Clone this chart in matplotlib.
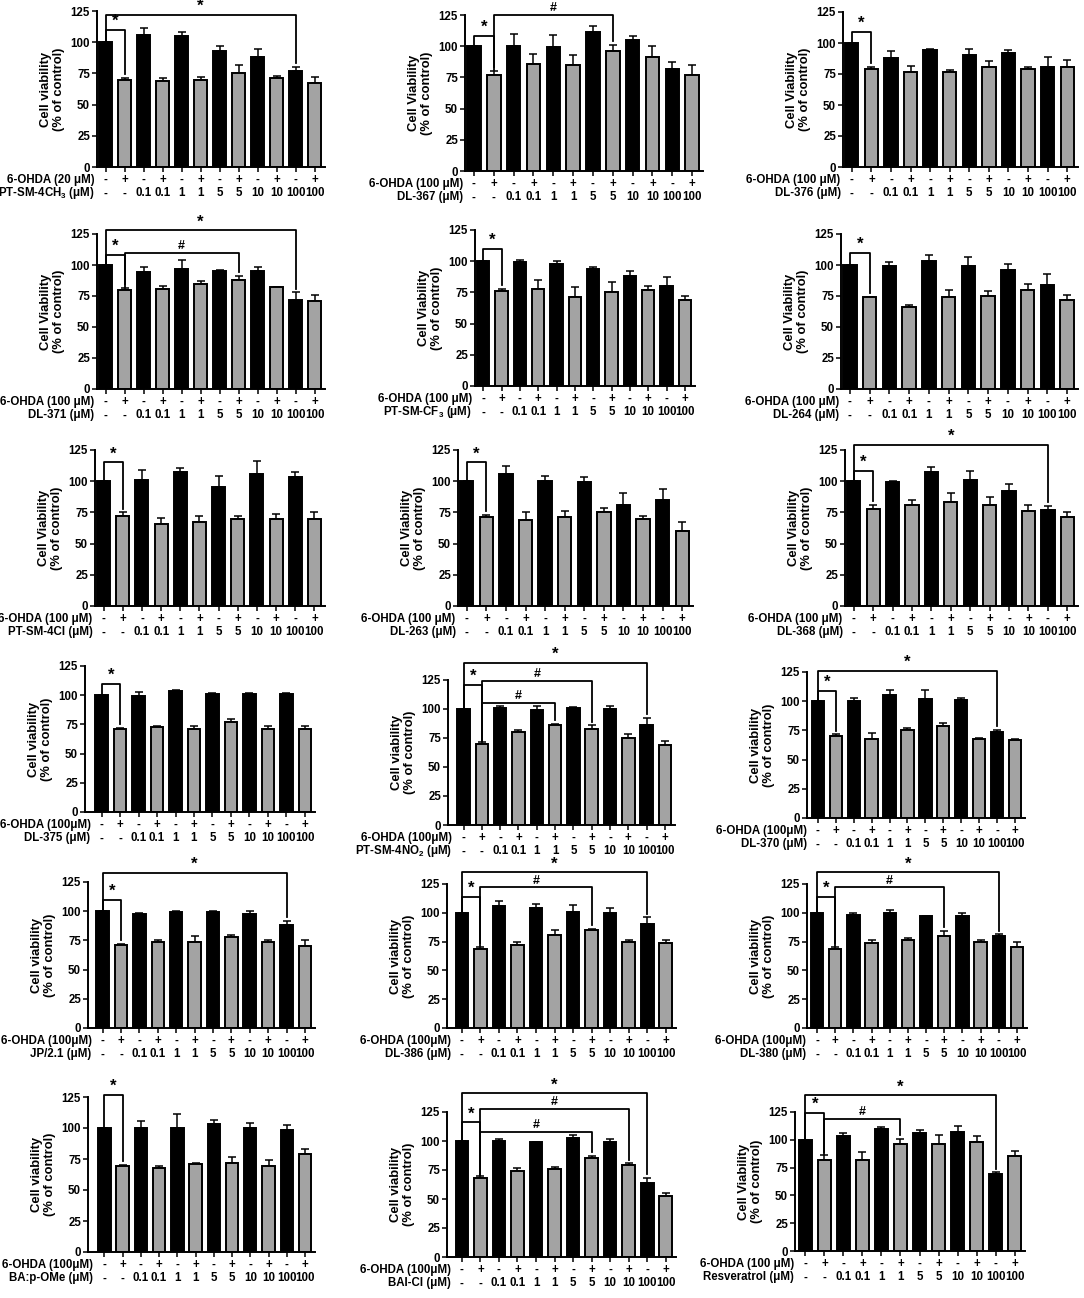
import numpy as np
import matplotlib.pyplot as plt

plt.rcParams['font.family'] = ['Liberation Sans', 'DejaVu Sans']
plt.rcParams['font.weight'] = 'bold'
plt.rcParams['mathtext.fontset'] = 'custom'
plt.rcParams['mathtext.rm'] = 'Liberation Sans:bold'
plt.rcParams['mathtext.bf'] = 'Liberation Sans:bold'
plt.rcParams['mathtext.default'] = 'bf'

# shared x labels
signs = ['-', '+'] * 6
concs = ['-', '-', '0.1', '0.1', '1', '1', '5', '5', '10', '10', '100', '100']

# means / SEM
pt4ch3_mean = [100, 70, 106, 69, 105, 70, 93, 75, 88, 71, 77, 67]
pt4ch3_err = [0, 1.5, 5, 2, 3.5, 2.5, 4, 7, 6.5, 2, 3, 5]
dl367_mean = [100, 77, 100, 86, 99, 85, 111, 96, 105, 91, 82, 77]
dl367_err = [0, 3, 10, 8, 10, 8, 5, 5, 3.5, 9, 5, 8]
dl376_mean = [100, 79, 88, 77, 94, 77, 90, 81, 92, 79, 81, 81]
dl376_err = [0, 1.5, 5.5, 4.5, 1, 1.5, 5.5, 4.5, 2, 2, 7.5, 5.5]
dl371_mean = [100, 80, 94, 81, 97, 85, 95, 88, 95, 82, 72, 71]
dl371_err = [0, 1.5, 4, 2, 7, 2.5, 1, 3.5, 3.5, 0.5, 6, 5]
ptcf3_mean = [100, 76, 99, 78, 98, 71, 94, 75, 88, 77, 80, 69]
ptcf3_err = [0, 2, 2, 7, 2, 8.5, 1.5, 8, 4, 3, 7.5, 3.5]
dl264_mean = [100, 74, 99, 66, 103, 74, 99, 75, 96, 80, 84, 72]
dl264_err = [0, 0.5, 3.5, 1.5, 5, 6, 7.5, 4, 5, 4.5, 8.5, 4]
pt4cl_mean = [100, 72, 101, 66, 107, 67, 95, 70, 106, 70, 103, 70]
pt4cl_err = [0, 3, 8, 4.5, 3.5, 5.5, 9, 2.5, 10.5, 4, 4, 5]
dl263_mean = [100, 71, 106, 69, 100, 71, 99, 75, 81, 70, 85, 60]
dl263_err = [0, 2, 6, 6, 4.5, 5, 4.5, 3.5, 9.5, 2, 9, 7]
dl368_mean = [100, 78, 99, 81, 107, 83, 101, 81, 92, 76, 77, 71]
dl368_err = [0, 3, 1, 4, 4, 7.5, 7, 6.5, 5.5, 5, 3, 4.5]
dl375_mean = [100, 71, 99, 73, 104, 71, 101, 77, 101, 71, 101, 71]
dl375_err = [0, 1, 3.5, 0.5, 0.5, 2.5, 1, 3, 0.5, 2.5, 0.5, 3]
pt4no2_mean = [100, 70, 101, 80, 99, 86, 101, 83, 100, 75, 86, 69]
pt4no2_err = [0, 1.5, 2, 2, 3.5, 1.5, 0.5, 3, 3, 3.5, 6.5, 3.5]
dl370_mean = [100, 70, 100, 68, 105, 75, 102, 79, 101, 68, 74, 67]
dl370_err = [0, 1.5, 2.5, 4.5, 5, 2, 8, 2, 2, 0.5, 1.5, 0.5]
jp21_mean = [100, 71, 98, 74, 99, 74, 99, 78, 98, 74, 88, 70]
jp21_err = [0, 1, 0.5, 1, 1.5, 5, 1, 2, 2, 1.5, 4, 5]
dl386_mean = [100, 69, 106, 72, 104, 81, 101, 85, 100, 75, 90, 74]
dl386_err = [0, 1.5, 4, 3, 3.5, 4, 6, 1, 4.5, 1, 6, 2]
dl380_mean = [100, 69, 98, 74, 100, 76, 97, 80, 97, 75, 80, 70]
dl380_err = [0, 1.5, 2, 2.5, 2.5, 2, 0.5, 4.5, 2.5, 1.5, 1.5, 4.5]
bapome_mean = [100, 69, 100, 68, 100, 71, 103, 72, 100, 69, 98, 79]
bapome_err = [0, 1, 6, 1.5, 11, 0.5, 3.5, 5, 4, 5, 4.5, 4]
baicl_mean = [100, 68, 100, 74, 99, 76, 103, 85, 99, 79, 64, 53]
baicl_err = [0, 1.5, 2, 3, 0.5, 1.5, 2, 2.5, 2.5, 2, 4.5, 2]
resv_mean = [100, 82, 103, 82, 110, 96, 106, 96, 107, 98, 69, 85]
resv_err = [0, 4, 3, 7, 1.5, 5, 3, 8, 5.5, 5, 2, 5]

panels = [
    # (means, errs, ylabel, treatment, compound)
    (pt4ch3_mean, pt4ch3_err, 'Cell viability', '6-OHDA (20 μM)', r'PT-SM-4CH$_3$ (μM)'),
    (dl367_mean, dl367_err, 'Cell Viability', '6-OHDA (100 μM)', 'DL-367 (μM)'),
    (dl376_mean, dl376_err, 'Cell Viability', '6-OHDA (100 μM)', 'DL-376 (μM)'),
    (dl371_mean, dl371_err, 'Cell Viability', '6-OHDA (100 μM)', 'DL-371 (μM)'),
    (ptcf3_mean, ptcf3_err, 'Cell Viability', '6-OHDA (100 μM)', r'PT-SM-CF$_3$ (μM)'),
    (dl264_mean, dl264_err, 'Cell Viability', '6-OHDA (100 μM)', 'DL-264 (μM)'),
    (pt4cl_mean, pt4cl_err, 'Cell Viability', '6-OHDA (100 μM)', 'PT-SM-4Cl (μM)'),
    (dl263_mean, dl263_err, 'Cell Viability', '6-OHDA (100 μM)', 'DL-263 (μM)'),
    (dl368_mean, dl368_err, 'Cell Viability', '6-OHDA (100 μM)', 'DL-368 (μM)'),
    (dl375_mean, dl375_err, 'Cell viability', '6-OHDA (100μM)', 'DL-375 (μM)'),
    (pt4no2_mean, pt4no2_err, 'Cell viability', '6-OHDA (100μM)', r'PT-SM-4NO$_2$ (μM)'),
    (dl370_mean, dl370_err, 'Cell viability', '6-OHDA (100μM)', 'DL-370 (μM)'),
    (jp21_mean, jp21_err, 'Cell viability', '6-OHDA (100μM)', 'JP/2.1 (μM)'),
    (dl386_mean, dl386_err, 'Cell viability', '6-OHDA (100μM)', 'DL-386 (μM)'),
    (dl380_mean, dl380_err, 'Cell viability', '6-OHDA (100μM)', 'DL-380 (μM)'),
    (bapome_mean, bapome_err, 'Cell viability', '6-OHDA (100μM)', 'BA:p-OMe (μM)'),
    (baicl_mean, baicl_err, 'Cell viability', '6-OHDA (100μM)', 'BAI-Cl (μM)'),
    (resv_mean, resv_err, 'Cell Viability', '6-OHDA (100 μM)', 'Resveratrol (μM)'),
]

# significance brackets: (bar i, bar j, line height, symbol)
brackets = [
    [(0, 1, 110, '*'), (0, 10, 122, '*')],
    [(0, 1, 108, '*'), (1, 7, 125, '#')],
    [(0, 1, 109, '*')],
    [(0, 1, 108, '*'), (1, 7, 110, '#'), (0, 10, 128, '*')],
    [(0, 1, 110, '*')],
    [(0, 1, 110, '*')],
    [(0, 1, 115, '*')],
    [(0, 1, 115, '*')],
    [(0, 1, 108, '*'), (0, 10, 129, '*')],
    [(0, 1, 110, '*')],
    [(0, 1, 121, '*'), (1, 5, 105, '#'), (1, 7, 124, '#'), (0, 10, 140, '*')],
    [(0, 1, 109, '*'), (0, 10, 126, '*')],
    [(0, 1, 110, '*'), (0, 10, 133, '*')],
    [(0, 1, 114, '*'), (1, 7, 122, '#'), (0, 10, 135, '*')],
    [(0, 1, 114, '*'), (1, 7, 122, '#'), (0, 10, 135, '*')],
    [(0, 1, 127, '*')],
    [(0, 1, 116, '*'), (1, 7, 108, '#'), (1, 9, 128, '#'), (0, 10, 141, '*')],
    [(0, 1, 124, '*'), (1, 5, 119, '#'), (0, 10, 140, '*')],
]

# axes boxes in pixels: spine x, axis end x, y of 125, y of 0, left pad (bar slots)
boxes = [
    (97, 325, 11, 167, 0.45), (465, 703, 15, 171, 0.45), (843, 1078, 12, 167, 0.45),
    (97, 325, 234, 389, 0.45), (475, 695, 230, 386, 0.45), (841, 1078, 234, 389, 0.45),
    (95, 325, 450, 606, 0.45), (458, 693, 450, 606, 0.45), (845, 1078, 450, 606, 0.45),
    (85, 315, 666, 812, 0.9), (448, 675, 680, 825, 0.85), (807, 1025, 672, 818, 0.6),
    (88, 315, 882, 1028, 0.8), (447, 676, 884, 1028, 0.8), (807, 1027, 884, 1028, 0.55),
    (88, 315, 1097, 1252, 0.9), (447, 676, 1112, 1257, 0.8), (795, 1025, 1112, 1251, 0.55),
]

W, H = 1084, 1298
fig = plt.figure(figsize=(W / 100, H / 100), dpi=100)
fs = 8.3

for (means, errs, ylab, treat, comp), brs, (x0, x1, yt, yb, pad) in zip(panels, brackets, boxes):
    ax = fig.add_axes([x0 / W, 1 - yb / H, (x1 - x0) / W, (yb - yt) / H])
    x = np.arange(len(means))
    means = np.array(means, dtype=float)
    errs = np.array(errs, dtype=float)
    colors = ['black' if k % 2 == 0 else '#a3a3a3' for k in x]
    ax.errorbar(x, means, yerr=[np.zeros_like(errs), errs], fmt='none',
                ecolor='black', elinewidth=1.1, capsize=3, capthick=1.1, zorder=1)
    ax.bar(x, means, width=0.68, color=colors, edgecolor='black', linewidth=1.4, zorder=2)

    ax.set_ylim(0, 125)
    ax.set_xlim(-pad, len(means) - 0.45)
    ax.set_yticks([0, 25, 50, 75, 100, 125])
    ax.set_xticks(x)
    ax.set_xticklabels([])
    ax.tick_params(axis='both', length=3.5, width=1.1, labelsize=fs, pad=1.5)
    for lab in ax.get_yticklabels():
        lab.set_fontweight('bold')
    for s in ['top', 'right']:
        ax.spines[s].set_visible(False)
    for s in ['left', 'bottom']:
        ax.spines[s].set_linewidth(1.4)
    ax.set_ylabel(ylab + '\n(% of control)', fontsize=9.4, fontweight='bold',
                  labelpad=4, linespacing=1.1)

    # two rows of x labels
    for k in x:
        ax.annotate(signs[k], xy=(k, 0), xycoords=('data', 'axes fraction'),
                    xytext=(0, -9.2), textcoords='offset points',
                    ha='center', va='center', fontsize=fs, fontweight='bold')
        ax.annotate(concs[k], xy=(k, 0), xycoords=('data', 'axes fraction'),
                    xytext=(0, -19.0), textcoords='offset points',
                    ha='center', va='center', fontsize=fs, fontweight='bold')
    ax.annotate(treat, xy=(0, 0), xycoords=('data', 'axes fraction'),
                xytext=(-8, -9.2), textcoords='offset points',
                ha='right', va='center', fontsize=fs, fontweight='bold',
                annotation_clip=False)
    ax.annotate(comp, xy=(0, 0), xycoords=('data', 'axes fraction'),
                xytext=(-8, -19.0), textcoords='offset points',
                ha='right', va='center', fontsize=fs, fontweight='bold',
                annotation_clip=False)

    # significance brackets
    for i, j, h, sym in brs:
        yi = means[i] + errs[i] + 1
        yj = means[j] + errs[j] + 3
        ax.plot([i, i, j, j], [yi, h, h, yj], color='black', lw=1.3,
                clip_on=False, zorder=3)
        size = 12 if sym == '*' else 9
        ax.text((i + j) / 2, h + 0.8, sym, ha='center', va='bottom',
                fontsize=size, fontweight='bold', clip_on=False)

fig.savefig('out.png', dpi=100)
